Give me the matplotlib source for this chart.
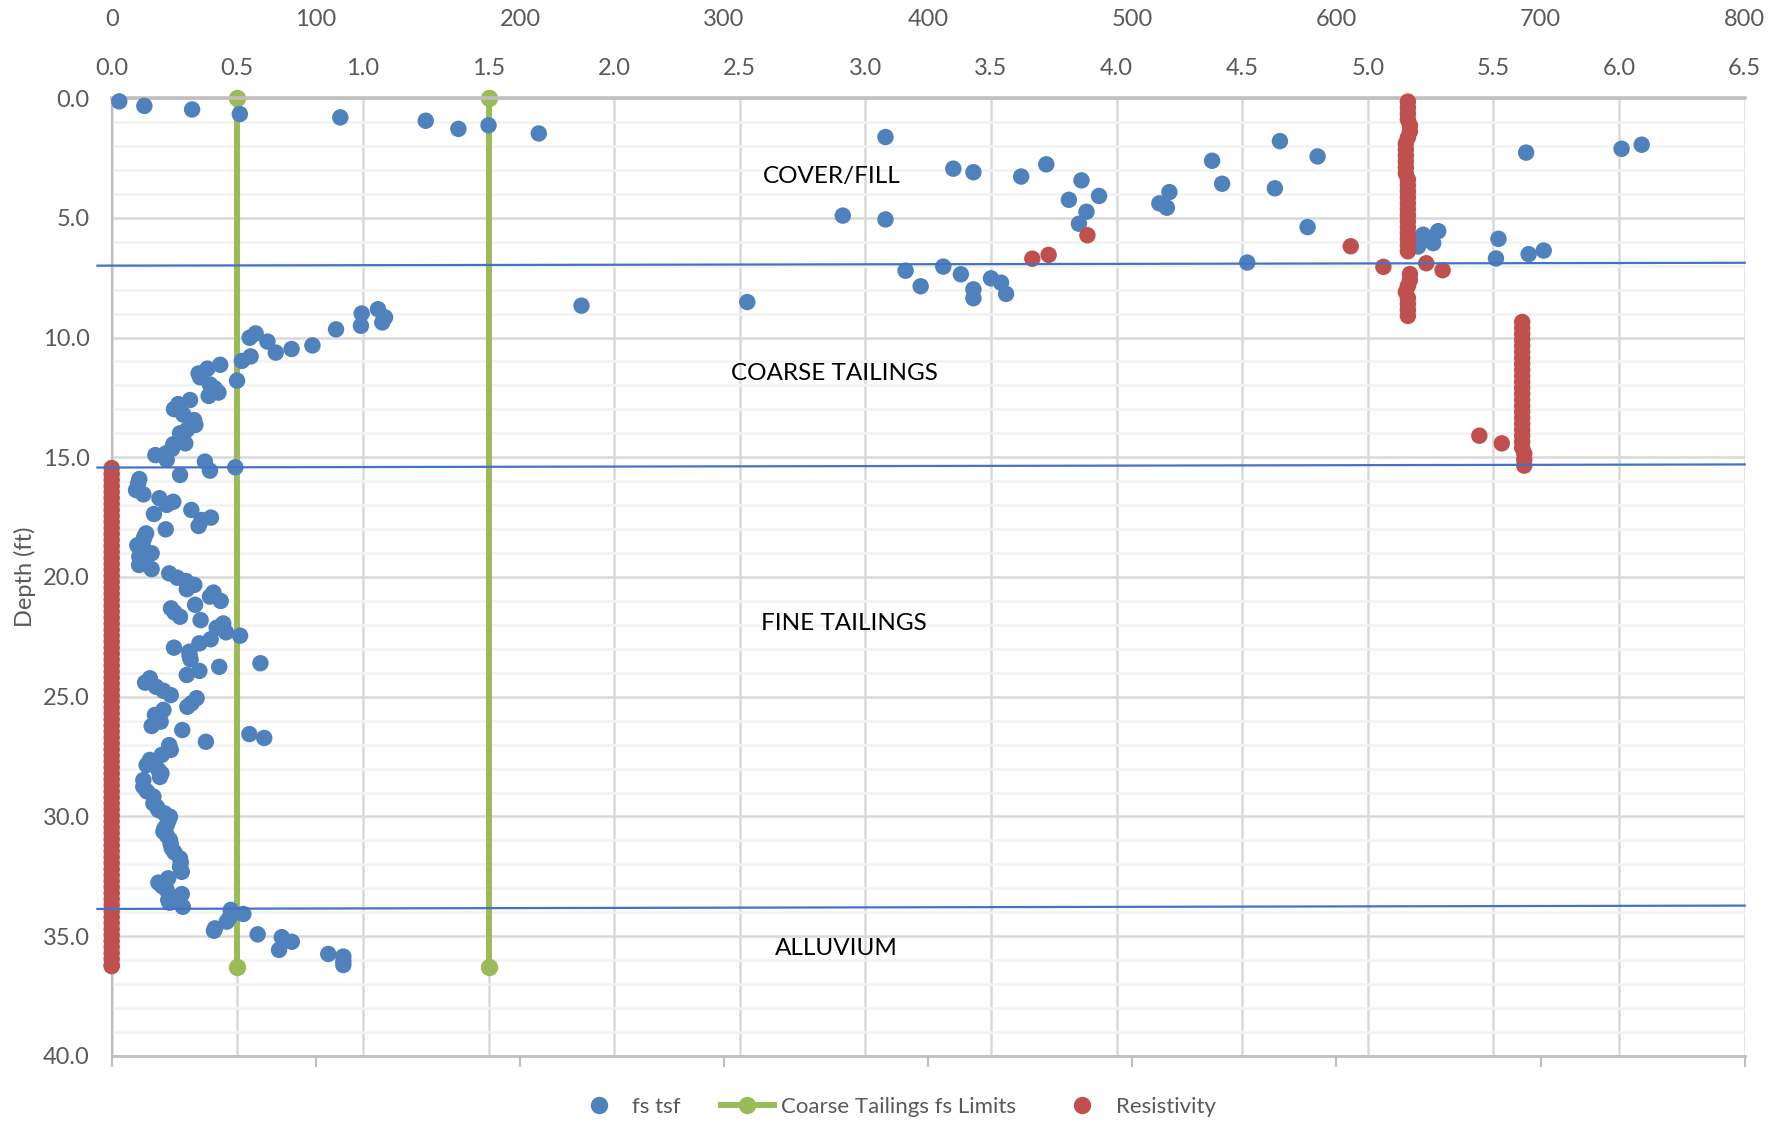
import matplotlib.pyplot as plt
from matplotlib.lines import Line2D
from matplotlib.ticker import MultipleLocator, FormatStrFormatter

plt.rcParams['font.family'] = ['Lato', 'DejaVu Sans']

# fs tsf (depth ft, fs tsf)
fs_depth = [0.14, 0.33, 0.48, 0.67, 0.81, 0.95, 1.14, 1.29, 1.48, 1.63, 1.80, 1.95, 2.12, 2.28,
            2.44, 2.62, 2.77, 2.95, 3.10, 3.28, 3.44, 3.58, 3.77, 3.93, 4.09, 4.25, 4.40, 4.58,
            4.75, 4.91, 5.07, 5.25, 5.39, 5.56, 5.71, 5.88, 6.06, 6.20, 6.37, 6.52, 6.70, 6.87,
            7.04, 7.21, 7.36, 7.53, 7.71, 7.86, 7.99, 8.18, 8.36, 8.52, 8.67, 8.82, 9.00, 9.16,
            9.37, 9.51, 9.66, 9.83, 10.01, 10.17, 10.33, 10.48, 10.63, 10.79, 10.98, 11.14, 11.30,
            11.50, 11.66, 11.80, 11.96, 12.12, 12.30, 12.44, 12.61, 12.78, 12.99, 13.22, 13.45,
            13.65, 13.85, 14.00, 14.20, 14.42, 14.46, 14.65, 14.84, 14.91, 15.11, 15.18, 15.42,
            15.56, 15.74, 15.91, 16.10, 16.37, 16.55, 16.71, 16.86, 16.99, 17.20, 17.37, 17.52,
            17.62, 17.87, 18.01, 18.18, 18.32, 18.46, 18.68, 18.85, 19.01, 19.15, 19.30, 19.50,
            19.67, 19.85, 20.03, 20.17, 20.33, 20.51, 20.65, 20.82, 21.00, 21.16, 21.31, 21.48,
            21.66, 21.80, 21.94, 22.12, 22.31, 22.45, 22.60, 22.77, 22.95, 23.12, 23.28, 23.44,
            23.60, 23.75, 23.92, 24.09, 24.23, 24.41, 24.58, 24.75, 24.93, 25.06, 25.27, 25.42,
            25.55, 25.76, 25.90, 26.04, 26.22, 26.39, 26.56, 26.72, 26.88, 27.02, 27.22, 27.43,
            27.64, 27.85, 28.06, 28.20, 28.35, 28.48, 28.76, 28.95, 29.17, 29.45, 29.60, 29.73,
            29.87, 30.01, 30.20, 30.36, 30.50, 30.63, 30.80, 30.98, 31.15, 31.33, 31.50, 31.75,
            31.92, 32.10, 32.31, 32.58, 32.76, 32.90, 33.07, 33.24, 33.49, 33.60, 33.77, 33.90,
            34.07, 34.20, 34.39, 34.67, 34.77, 34.92, 35.04, 35.23, 35.57, 35.74, 35.85, 36.05,
            36.20]
fs_tsf = [0.03, 0.13, 0.32, 0.51, 0.91, 1.25, 1.50, 1.38, 1.70, 3.08, 4.65, 6.09, 6.01, 5.63,
          4.80, 4.38, 3.72, 3.35, 3.43, 3.62, 3.86, 4.42, 4.63, 4.21, 3.93, 3.81, 4.17, 4.20,
          3.88, 2.91, 3.08, 3.85, 4.76, 5.28, 5.22, 5.52, 5.26, 5.20, 5.70, 5.64, 5.51, 4.52,
          3.31, 3.16, 3.38, 3.50, 3.54, 3.22, 3.43, 3.56, 3.43, 2.53, 1.87, 1.06, 0.995, 1.088,
          1.077, 0.992, 0.893, 0.573, 0.549, 0.620, 0.799, 0.716, 0.653, 0.553, 0.518, 0.432, 0.381,
          0.346, 0.352, 0.499, 0.391, 0.41, 0.425, 0.386, 0.312, 0.265, 0.248, 0.285, 0.328,
          0.333, 0.30, 0.272, 0.28, 0.293, 0.245, 0.24, 0.216, 0.174, 0.219, 0.371, 0.492,
          0.391, 0.272, 0.110, 0.105, 0.097, 0.126, 0.190, 0.245, 0.219, 0.317, 0.168, 0.395,
          0.358, 0.346, 0.215, 0.137, 0.13, 0.126, 0.102, 0.13, 0.159, 0.110, 0.12, 0.109,
          0.159, 0.229, 0.261, 0.296, 0.329, 0.299, 0.405, 0.391, 0.434, 0.332, 0.236, 0.25,
          0.272, 0.354, 0.444, 0.418, 0.455, 0.511, 0.394, 0.349, 0.248, 0.309, 0.31, 0.314,
          0.592, 0.428, 0.349, 0.299, 0.152, 0.133, 0.176, 0.206, 0.235, 0.338, 0.318, 0.301,
          0.206, 0.172, 0.18, 0.195, 0.159, 0.281, 0.548, 0.607, 0.375, 0.229, 0.235, 0.199,
          0.152, 0.139, 0.186, 0.198, 0.192, 0.126, 0.126, 0.14, 0.166, 0.166, 0.18, 0.186,
          0.21, 0.232, 0.225, 0.219, 0.21, 0.206, 0.22, 0.232, 0.235, 0.239, 0.25, 0.272,
          0.275, 0.272, 0.279, 0.225, 0.186, 0.20, 0.219, 0.279, 0.225, 0.23, 0.283, 0.474,
          0.524, 0.47, 0.458, 0.411, 0.407, 0.581, 0.677, 0.717, 0.666, 0.862, 0.922, 0.922,
          0.922]

# Coarse tailings fs limits
limit_fs = [0.5, 1.5]
limit_depth = [0.0, 36.3]

# Resistivity (depth ft, resistivity)
res_depth = [0.15, 0.40, 0.65, 0.90, 1.15, 1.40, 1.65, 1.90, 2.15, 2.40, 2.65, 2.90, 3.15,
             3.40, 3.65, 3.90, 4.15, 4.40, 4.65, 4.90, 5.15, 5.40, 5.65, 5.90, 6.15, 6.40,
             6.71, 6.55, 5.73, 6.19, 7.05, 6.90, 7.19,
             7.35, 7.60, 7.85, 8.10, 8.35, 8.60, 8.85, 9.10,
             9.35, 9.60, 9.85, 10.10, 10.35, 10.60, 10.85, 11.10, 11.35, 11.60, 11.85, 12.10,
             12.35, 12.60, 12.85, 13.10, 13.35, 13.60, 13.85, 14.10, 14.35, 14.60, 14.85, 15.10,
             15.35, 14.10, 14.42]
res_value = [635, 635, 635, 635, 636, 636, 635, 634, 634, 634, 634, 634, 634,
             635, 635, 635, 635, 635, 635, 635, 635, 635, 635, 635, 635, 635,
             451, 459, 478, 607, 623, 644, 652,
             636, 636, 635, 634, 635, 635, 635, 635,
             691, 691, 691, 691, 691, 691, 691, 691, 691, 691, 691, 691,
             691, 691, 691, 691, 691, 691, 691, 691, 691, 691, 692, 692,
             692, 670, 681]
res_fine_depth = [15.45, 15.70, 15.95, 16.20, 16.45, 16.70, 16.95, 17.20, 17.45, 17.70, 17.95,
                  18.20, 18.45, 18.70, 18.95, 19.20, 19.45, 19.70, 19.95, 20.20, 20.45, 20.70,
                  20.95, 21.20, 21.45, 21.70, 21.95, 22.20, 22.45, 22.70, 22.95, 23.20, 23.45,
                  23.70, 23.95, 24.20, 24.45, 24.70, 24.95, 25.20, 25.45, 25.70, 25.95, 26.20,
                  26.45, 26.70, 26.95, 27.20, 27.45, 27.70, 27.95, 28.20, 28.45, 28.70, 28.95,
                  29.20, 29.45, 29.70, 29.95, 30.20, 30.45, 30.70, 30.95, 31.20, 31.45, 31.70,
                  31.95, 32.20, 32.45, 32.70, 32.95, 33.20, 33.45, 33.70, 33.95, 34.20, 34.45,
                  34.70, 34.95, 35.20, 35.45, 35.70, 35.95, 36.20, 36.25]
res_fine_value = 0

# layer boundaries (depth at left and right edge) and labels
boundary_left = [7.0, 15.43, 33.86]
boundary_right = [6.88, 15.30, 33.72]
layer_names = ['COVER/FILL', 'COARSE TAILINGS', 'FINE TAILINGS', 'ALLUVIUM']
layer_label_fs = [2.867, 2.878, 2.914, 2.883]
layer_label_depth = [3.29, 11.52, 21.95, 35.52]

blue = '#4F81BD'
green = '#9BBB59'
red = '#C0504D'
grey_txt = '#595959'
msize = 140

fig = plt.figure(figsize=(17.88, 11.24), dpi=100)
ax = fig.add_axes([0.06247, 0.0605, 0.91331, 0.85231])
ax.set_xlim(0, 6.5)
ax.set_ylim(40, 0)

for x in limit_fs:
    ax.plot([x, x], limit_depth, '-o', color=green, lw=4.3, ms=11.5, zorder=2, clip_on=False)
ax.scatter(fs_tsf, fs_depth, s=msize, color=blue, edgecolors='none', zorder=3, clip_on=False)

for name, x, y in zip(layer_names, layer_label_fs, layer_label_depth):
    ax.text(x, y, name, fontsize=17.5, color='black', ha='center', va='center')

# resistivity on secondary x axis
ax2 = ax.twiny()
ax2.set_xlim(0, 800)
ax2.set_ylim(40, 0)
ax2.scatter(res_value, res_depth, s=msize, color=red, edgecolors='none', zorder=3, clip_on=False)
ax2.scatter([res_fine_value] * len(res_fine_depth), res_fine_depth, s=msize, color=red,
            edgecolors='none', zorder=3, clip_on=False)
for yl, yr in zip(boundary_left, boundary_right):
    ax2.plot([-7, 800], [yl, yr], color='#4472C4', lw=1.6, zorder=4, clip_on=False)
ax2.xaxis.set_major_locator(MultipleLocator(100))
ax2.tick_params(axis='x', top=False, bottom=True, labeltop=True, labelbottom=False,
                direction='out', length=8, width=1.5, color='#BFBFBF', pad=41,
                labelsize=17, labelcolor=grey_txt)
for s in ax2.spines.values():
    s.set_visible(False)

# primary axis styling (after twiny, which moves ticks to the bottom)
ax.xaxis.set_major_locator(MultipleLocator(0.5))
ax.xaxis.set_major_formatter(FormatStrFormatter('%.1f'))
ax.yaxis.set_major_locator(MultipleLocator(5))
ax.yaxis.set_minor_locator(MultipleLocator(1))
ax.yaxis.set_major_formatter(FormatStrFormatter('%.1f'))
ax.tick_params(axis='x', which='both', top=False, bottom=False, labeltop=True, labelbottom=False,
               length=0, pad=14, labelsize=17, labelcolor=grey_txt)
ax.tick_params(axis='y', which='both', length=0, pad=16, labelsize=17, labelcolor=grey_txt)
ax.set_axisbelow(True)
ax.grid(axis='x', which='major', color='#D9D9D9', lw=1.8)
ax.grid(axis='y', which='major', color='#D9D9D9', lw=1.8)
ax.grid(axis='y', which='minor', color='#F2F2F2', lw=1.8)
ax.spines['right'].set_visible(False)
ax.spines['top'].set_color('#BFBFBF')
ax.spines['top'].set_linewidth(2.6)
ax.spines['bottom'].set_color('#BFBFBF')
ax.spines['bottom'].set_linewidth(2)
ax.spines['left'].set_color('#BFBFBF')
ax.spines['left'].set_linewidth(1.6)
ax.set_ylabel('Depth (ft)', fontsize=17, color=grey_txt)
ax.yaxis.set_label_coords(-0.0464, 0.5)

handles = [
    Line2D([], [], ls='none', marker='o', ms=11.5, color=blue),
    Line2D([], [], ls='-', marker='o', ms=11.5, lw=4.3, color=green),
    Line2D([], [], ls='none', marker='o', ms=11.5, color=red),
]
fig.legend(handles, ['fs tsf', 'Coarse Tailings fs Limits', 'Resistivity'],
           loc='center', bbox_to_anchor=(0.5, 0.0151), ncol=3, frameon=False,
           fontsize=16, labelcolor=grey_txt, handlelength=2.4, handletextpad=0.3,
           columnspacing=1.8)

fig.savefig('out.png', dpi=100)
